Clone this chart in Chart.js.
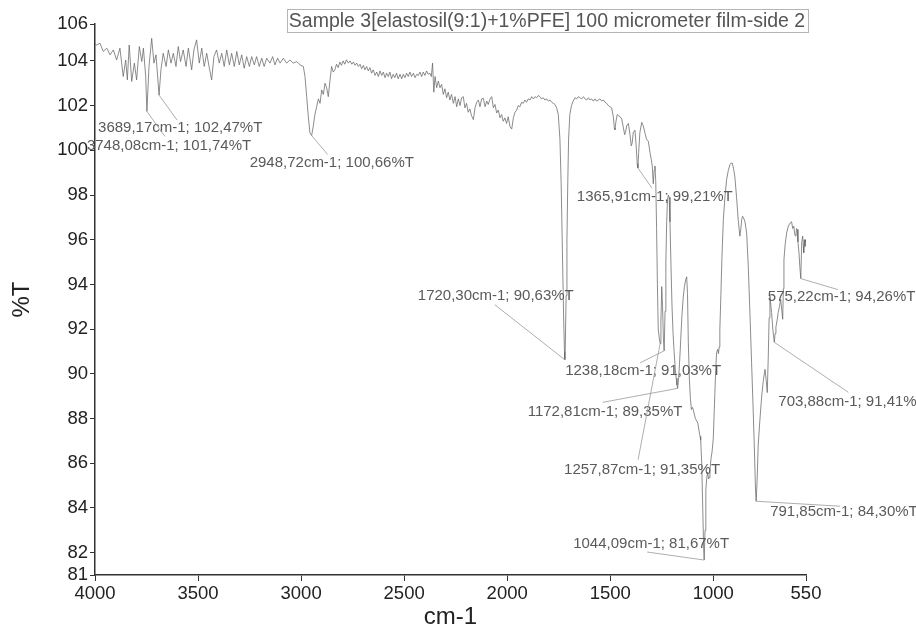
<!DOCTYPE html>
<html>
<head>
<meta charset="utf-8">
<script src="https://cdn.jsdelivr.net/npm/chart.js@4.4.1/dist/chart.umd.min.js"></script>
<style>
  html, body { margin: 0; padding: 0; background: #fff; }
</style>
</head>
<body>
<canvas id="ftirChart" width="916" height="629"></canvas>
<script>
// FTIR spectrum (cm-1 vs %T)
const wavenumber = [
  4000, 3992, 3976, 3960, 3943, 3927, 3911, 3895, 3879, 3863,
  3851, 3843, 3834, 3822, 3809, 3798, 3785, 3773, 3765, 3754,
  3748.08, 3738, 3725, 3714, 3704, 3689.17, 3680, 3669, 3655, 3644,
  3631, 3620, 3607, 3596, 3585, 3572, 3558, 3547, 3531, 3520,
  3507, 3494, 3482, 3470, 3458, 3445, 3434, 3423, 3410, 3397,
  3385, 3373, 3361, 3348, 3337, 3324, 3312, 3300, 3288, 3276,
  3264, 3251, 3240, 3227, 3216, 3203, 3191, 3179, 3167, 3151,
  3138, 3127, 3114, 3102, 3086, 3070, 3054, 3038, 3021, 3005,
  2989, 2981, 2973, 2965, 2957, 2948.72, 2941, 2933, 2924, 2916,
  2908, 2900, 2892, 2884, 2876, 2868, 2860, 2852, 2844, 2836,
  2828, 2820, 2812, 2804, 2796, 2788, 2780, 2771, 2762, 2754,
  2746, 2738, 2730, 2722, 2714, 2706, 2698, 2690, 2682, 2674,
  2666, 2658, 2650, 2641, 2633, 2625, 2617, 2609, 2601, 2593,
  2585, 2577, 2569, 2561, 2553, 2545, 2537, 2529, 2520, 2512,
  2504, 2496, 2488, 2480, 2472, 2464, 2455, 2447, 2439, 2431,
  2423, 2415, 2407, 2399, 2391, 2383, 2375, 2368, 2362, 2356,
  2350, 2342, 2334, 2326, 2318, 2310, 2302, 2294, 2286, 2278,
  2270, 2261, 2253, 2245, 2237, 2229, 2221, 2213, 2205, 2197,
  2189, 2181, 2173, 2164, 2156, 2148, 2140, 2132, 2124, 2116,
  2107, 2099, 2092, 2083, 2075, 2067, 2059, 2051, 2043, 2035,
  2027, 2019, 2011, 2003, 1995, 1986, 1978, 1970, 1962, 1954,
  1946, 1938, 1930, 1922, 1914, 1906, 1898, 1889, 1881, 1873,
  1865, 1857, 1849, 1841, 1833, 1825, 1817, 1808, 1800, 1792,
  1784, 1776, 1768, 1760, 1752, 1744, 1738, 1732, 1726, 1722,
  1720.3, 1718, 1714, 1710, 1706, 1702, 1696, 1688, 1680, 1671,
  1663, 1655, 1647, 1639, 1630, 1622, 1614, 1606, 1598, 1590,
  1582, 1574, 1566, 1558, 1550, 1541, 1533, 1525, 1517, 1509,
  1501, 1493, 1485, 1480, 1477, 1472, 1466, 1460, 1452, 1444,
  1436, 1430, 1426, 1420, 1412, 1404, 1398, 1394, 1388, 1380,
  1374, 1369, 1365.91, 1362, 1356, 1347, 1340, 1332, 1324, 1315,
  1307, 1301, 1296, 1291, 1287, 1283, 1279, 1275, 1271, 1267,
  1262, 1257.87, 1254, 1250, 1246, 1242, 1238.18, 1234, 1230, 1226,
  1222, 1218, 1214, 1210, 1205, 1200, 1195, 1190, 1185, 1180,
  1176, 1172.81, 1169, 1164, 1158, 1152, 1146, 1140, 1134, 1129,
  1125, 1121, 1116, 1111, 1106, 1101, 1097, 1092, 1087, 1081,
  1075, 1068, 1064, 1061, 1056, 1051, 1047, 1044.09, 1040, 1036,
  1032, 1027, 1023, 1019, 1016, 1011, 1006, 1000, 995, 990,
  984, 978, 975, 971, 968, 963, 958, 951, 943, 935,
  927, 919, 913, 908, 902, 895, 887, 879, 871, 866,
  862, 858, 854, 846, 838, 830, 822, 814, 806, 800,
  795, 791.85, 787, 782, 774, 765, 757, 749, 743, 738,
  733, 729, 725, 721, 717, 711, 703.88, 700, 696, 690,
  685, 679, 673, 668, 663, 660, 657, 651, 644, 636,
  627, 620, 614, 609, 604, 599, 596, 593, 589, 584,
  580, 575.22, 571, 566, 563, 561, 558, 555, 552, 550
];
const percentT = [
  104.75, 104.71, 104.79, 104.42, 104.57, 104.27, 104.49, 104.04, 104.57, 103.30,
  104.04, 103.15, 104.71, 103.08, 103.90, 103.15, 104.64, 103.97, 104.57, 103.30,
  101.74, 103.75, 105.01, 103.90, 104.27, 102.47, 103.60, 104.34, 103.75, 104.49,
  103.90, 104.34, 103.75, 104.64, 103.97, 104.49, 103.75, 104.57, 103.60, 104.49,
  104.94, 103.90, 104.57, 103.75, 104.34, 103.67, 103.15, 104.19, 104.49, 103.90,
  104.34, 103.75, 104.49, 103.82, 104.34, 103.75, 104.42, 103.82, 104.27, 103.67,
  104.19, 103.75, 104.19, 103.82, 104.19, 103.75, 104.12, 103.75, 104.12, 103.90,
  104.19, 103.82, 104.12, 103.90, 104.12, 103.90, 104.04, 103.90, 103.97, 103.82,
  103.75, 103.30, 102.41, 101.51, 100.78, 100.66, 101.07, 101.6, 101.96, 102.3,
  102.1, 102.7, 102.5, 103.0, 102.8, 102.4, 103.1, 103.75, 103.5, 103.6,
  103.85, 103.7, 103.95, 103.8, 104.0, 103.85, 104.05, 103.9, 104.0, 103.85,
  103.95, 103.8, 103.9, 103.75, 103.85, 103.65, 103.8, 103.6, 103.75, 103.55,
  103.7, 103.45, 103.6, 103.35, 103.5, 103.3, 103.55, 103.35, 103.5, 103.25,
  103.45, 103.3, 103.5, 103.2, 103.4, 103.25, 103.45, 103.2, 103.4, 103.2,
  103.4, 103.25, 103.45, 103.3, 103.5, 103.3, 103.45, 103.25, 103.4, 103.35,
  103.5, 103.3, 103.5, 103.35, 103.55, 103.4, 103.45, 103.3, 103.9, 102.6,
  103.3, 102.8, 103.1, 102.8, 102.95, 102.5, 102.75, 102.35, 102.6, 102.25,
  102.5, 102.1, 102.4, 101.95, 102.3, 102.0, 102.35, 102.4, 101.9, 102.1,
  101.7, 101.85, 101.55, 101.37, 101.9, 102.15, 102.25, 101.95, 102.3, 102.33,
  101.95, 102.2, 102.05, 102.3, 102.4, 101.9, 102.05, 101.67, 101.8, 101.45,
  101.6, 101.3, 101.45, 101.2, 101.5, 101.05, 100.95, 101.45, 101.7, 101.8,
  102.0, 101.95, 102.15, 102.1, 102.25, 102.15, 102.3, 102.25, 102.4, 102.3,
  102.4, 102.35, 102.45, 102.4, 102.3, 102.35, 102.25, 102.3, 102.2, 102.25,
  102.15, 102.1, 102.05, 101.9, 101.6, 100.5, 98.5, 95.5, 92.5, 91.0,
  90.63, 91.2, 93.5, 96.0, 98.5, 100.5, 101.6, 102.0, 102.2, 102.35,
  102.3, 102.4, 102.35, 102.3, 102.4, 102.3, 102.25, 102.35, 102.25, 102.3,
  102.2, 102.3, 102.2, 102.25, 102.3, 102.2, 102.25, 102.15, 102.1, 102.0,
  101.95, 101.9, 101.5, 101.0, 100.92, 101.3, 101.6, 101.55, 101.5, 101.4,
  101.0, 100.7, 100.8, 101.1, 101.2, 100.7, 100.2, 100.3, 100.8, 100.9,
  100.2, 99.4, 99.21, 99.9, 100.8, 101.25, 101.1, 100.8, 100.5, 100.4,
  99.9, 99.6, 99.3, 98.5, 99.1, 99.3, 98.6, 96.5, 94.0, 92.0,
  91.6, 91.35, 92.3, 93.9, 93.0, 91.6, 91.03, 92.8, 95.0, 96.8,
  97.8, 98.0, 97.9, 96.8, 94.8, 93.0, 91.8, 91.0, 90.3, 89.8,
  89.5, 89.35, 89.7, 90.4, 91.5, 92.6, 93.4, 93.9, 94.2, 94.34,
  93.6, 91.4, 89.8, 88.9, 88.4, 88.5, 88.4, 88.2, 88.0, 87.9,
  87.8, 87.4, 87.2, 87.03, 86.0, 84.0, 82.3, 81.67, 83.0, 84.8,
  85.3, 85.6, 85.3, 85.35, 85.7, 86.2, 86.5, 87.1, 88.4, 89.7,
  90.95, 91.1, 90.9, 91.2, 92.0, 93.5, 95.2, 96.9, 97.95, 98.7,
  99.1, 99.36, 99.43, 99.43, 99.2, 98.8, 97.9, 96.9, 96.16, 96.5,
  96.9, 97.05, 97.0, 96.8, 96.3, 94.8, 92.7, 90.5, 88.3, 86.5,
  84.8, 84.30, 85.3, 86.8, 87.9, 89.0, 89.7, 90.2, 89.7, 89.16,
  90.8, 92.5, 93.48, 93.1, 92.74, 92.0, 91.41, 91.8, 92.1, 92.4,
  92.74, 93.0, 93.33, 92.9, 92.44, 93.8, 95.1, 95.8, 96.3, 96.6,
  96.75, 96.8, 96.5, 96.6, 96.2, 96.16, 96.5, 96.46, 95.9, 95.42,
  94.8, 94.26, 95.86, 96.16, 95.7, 95.42, 96.0, 95.7, 96.0, 95.9
];

// picked peaks (as printed by the software)
const peakWn = [3689.17, 3748.08, 2948.72, 1365.91, 1720.30, 1238.18, 1172.81, 1257.87, 1044.09, 791.85, 703.88, 575.22];
const peakT  = [102.47, 101.74, 100.66, 99.21, 90.63, 91.03, 89.35, 91.35, 81.67, 84.30, 91.41, 94.26];

// axis ticks
const xTicks = [4000, 3500, 3000, 2500, 2000, 1500, 1000, 550];
const yTicks = [81, 82, 84, 86, 88, 90, 92, 94, 96, 98, 100, 102, 104, 106];

const chartTitle = 'Sample 3[elastosil(9:1)+1%PFE] 100 micrometer film-side 2';
const Y_MIN = 81;
const Y_MAX = 105.65; // top of the plotted frame, labelled "106"

// label placement relative to each peak: [leaderDx, leaderDy, textDx, textDy]
const labelOffsets = [
  [18, 25, -61, 33],
  [18, 25, -60, 34.5],
  [16, 19, -62, 27],
  [14, 20, -61, 29],
  [-70, -55, -147, -64],
  [-24, 12, -99, 20.5],
  [-75, 14, -150, 24],
  [-22, 116, -96, 126],
  [-57, -8, -131, -16],
  [84, 5, 14, 11],
  [74, 50, 4, 60],
  [37, 11, -33, 18]
];

const fmt = v => v.toFixed(2).replace('.', ',');

Chart.defaults.font.family = '"Liberation Sans", Arial, Helvetica, sans-serif';

const peakLabels = {
  id: 'peakLabels',
  afterDatasetsDraw(chart) {
    const { ctx, scales } = chart;
    ctx.save();
    ctx.font = '15px "Liberation Sans", Arial, sans-serif';
    ctx.textBaseline = 'middle';
    ctx.textAlign = 'left';
    peakWn.forEach((w, i) => {
      const px = scales.x.getPixelForValue(w);
      const py = scales.y.getPixelForValue(peakT[i]);
      const o = labelOffsets[i];
      ctx.strokeStyle = '#999';
      ctx.lineWidth = 0.8;
      ctx.beginPath();
      ctx.moveTo(px, py);
      ctx.lineTo(px + o[0], py + o[1]);
      ctx.stroke();
      ctx.fillStyle = '#5a5a5a';
      ctx.fillText(fmt(w) + 'cm-1; ' + fmt(peakT[i]) + '%T', px + o[2], py + o[3]);
    });
    ctx.restore();
  },
  afterDraw(chart) {
    const ctx = chart.ctx;
    ctx.save();
    ctx.fillStyle = '#fff';
    ctx.fillRect(287.5, 9.5, 521, 23);
    ctx.strokeStyle = '#b5b5b5';
    ctx.lineWidth = 1;
    ctx.strokeRect(287.5, 9.5, 521, 23);
    ctx.fillStyle = '#555';
    ctx.font = '19.5px "Liberation Sans", Arial, sans-serif';
    ctx.textAlign = 'center';
    ctx.textBaseline = 'middle';
    ctx.fillText(chartTitle, 547, 21.5);
    ctx.restore();
  }
};

const ctx = document.getElementById('ftirChart').getContext('2d');
const chart = new Chart(ctx, {
  type: 'line',
  data: {
    datasets: [{
      data: wavenumber.map((w, i) => ({ x: w, y: percentT[i] })),
      borderColor: '#666',
      borderWidth: 0.75,
      pointRadius: 0,
      fill: false,
      tension: 0
    }]
  },
  options: {
    responsive: false,
    animation: false,
    devicePixelRatio: 1,
    layout: { padding: { top: 24, right: 110, bottom: 0, left: 0 } },
    plugins: {
      legend: { display: false },
      tooltip: { enabled: false }
    },
    scales: {
      x: {
        type: 'linear',
        reverse: true,
        min: 550,
        max: 4000,
        afterBuildTicks: s => { s.ticks = xTicks.map(v => ({ value: v })); },
        afterFit: s => { s.height = 54; },
        grid: { display: true, drawOnChartArea: false, tickLength: 6, color: '#333' },
        border: { display: true, color: '#333', width: 1.5 },
        ticks: {
          color: '#222', font: { size: 18.5 }, padding: 2,
          maxRotation: 0, autoSkip: false,
          callback: (v, i) => String(xTicks[i])
        },
        title: {
          display: true, text: 'cm-1', color: '#222',
          font: { size: 24, lineHeight: 1 }, padding: { top: 0, bottom: 0 }
        }
      },
      y: {
        min: Y_MIN,
        max: Y_MAX,
        afterBuildTicks: s => { s.ticks = yTicks.map(v => ({ value: Math.min(v, Y_MAX) })); },
        afterFit: s => { s.width = 95; },
        grid: { display: true, drawOnChartArea: false, tickLength: 5, color: '#333' },
        border: { display: true, color: '#333', width: 1.5 },
        ticks: {
          color: '#222', font: { size: 18.5 }, padding: 2, autoSkip: false,
          callback: (v, i) => String(yTicks[i])
        },
        title: {
          display: true, text: '%T', color: '#222',
          font: { size: 24, lineHeight: 1 }, padding: { top: 10, bottom: 0 }
        }
      }
    }
  },
  plugins: [peakLabels]
});
</script>
</body>
</html>
